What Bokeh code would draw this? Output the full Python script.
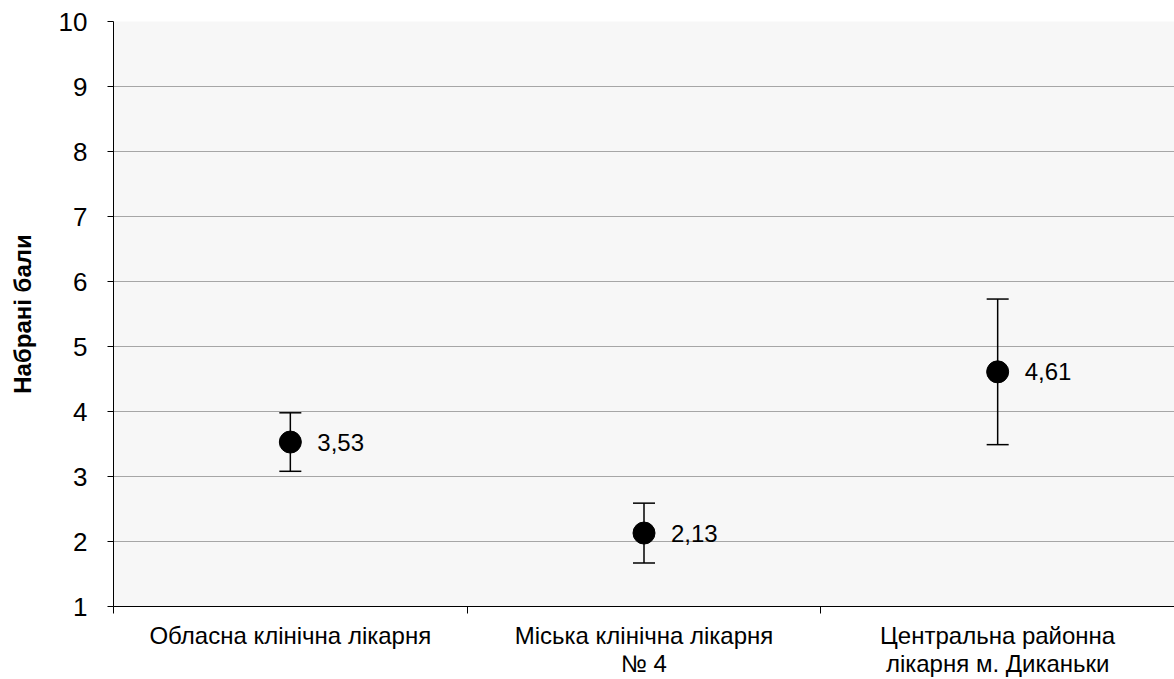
from bokeh.plotting import figure
from bokeh.models import ColumnDataSource, Range1d, FixedTicker, Whisker, TeeHead, LabelSet
from bokeh.core.properties import value
from bokeh.embed import file_html
from bokeh.resources import INLINE

categories = ["Обласна клінічна лікарня", "Міська клінічна лікарня\n№ 4", "Центральна районна\nлікарня м. Диканьки"]
means = [3.53, 2.13, 4.61]
errors = [0.45, 0.46, 1.12]
labels = ["3,53", "2,13", "4,61"]
y_ticks = [1, 2, 3, 4, 5, 6, 7, 8, 9, 10]

xs = [i + 0.5 for i in range(len(categories))]
src = ColumnDataSource(dict(
    x=xs, y=means,
    upper=[m + e for m, e in zip(means, errors)],
    lower=[m - e for m, e in zip(means, errors)],
    lab=labels,
))

p = figure(width=1174, height=679, output_backend="svg", toolbar_location=None,
           x_range=Range1d(0, len(categories)), y_range=Range1d(1, 10),
           min_border_left=113, min_border_right=0, min_border_top=21, min_border_bottom=72)
p.outline_line_color = None
p.background_fill_color = "#f7f7f7"
p.border_fill_color = "white"

font = "Liberation Sans"
# y axis
p.yaxis.ticker = FixedTicker(ticks=y_ticks)
p.yaxis.axis_line_color = "black"
p.yaxis.major_tick_line_color = "black"
p.yaxis.major_tick_out = 6
p.yaxis.major_tick_in = 0
p.yaxis.minor_tick_line_color = None
p.yaxis.major_label_text_font = font
p.yaxis.major_label_text_font_size = "26px"
p.yaxis.major_label_text_color = "black"
p.yaxis.major_label_standoff = 20
p.yaxis.axis_label = "Набрані бали"
p.yaxis.axis_label_text_font = font
p.yaxis.axis_label_text_font_style = "bold"
p.yaxis.axis_label_text_font_size = "24px"
p.yaxis.axis_label_text_color = "black"
p.yaxis.axis_label_standoff = 20

# x axis
p.xaxis.ticker = FixedTicker(ticks=xs, minor_ticks=list(range(len(categories) + 1)))
p.xaxis.major_label_overrides = {x: c for x, c in zip(xs, categories)}
p.xaxis.axis_line_color = "black"
p.xaxis.major_tick_line_color = None
p.xaxis.minor_tick_line_color = "black"
p.xaxis.minor_tick_out = 7
p.xaxis.minor_tick_in = 0
p.xaxis.major_label_text_font = font
p.xaxis.major_label_text_font_size = "24px"
p.xaxis.major_label_text_color = "black"
p.xaxis.major_label_text_line_height = 1.05
p.xaxis.major_label_standoff = 8

p.xgrid.grid_line_color = None
p.ygrid.ticker = FixedTicker(ticks=y_ticks)
p.ygrid.grid_line_color = "#a6a6a6"
p.ygrid.grid_line_width = 1

w = Whisker(source=src, base="x", upper="upper", lower="lower", dimension="height",
            line_color="black", line_width=1.5,
            upper_head=TeeHead(size=22, line_color="black", line_width=1.5),
            lower_head=TeeHead(size=22, line_color="black", line_width=1.5))
p.add_layout(w)

p.scatter("x", "y", source=src, size=22, color="black")

lbl = LabelSet(x="x", y="y", text="lab", source=src, x_offset=27, y_offset=0,
               text_baseline="middle", text_font=value(font), text_font_size="24px",
               text_color="black")
p.add_layout(lbl)

open("out.html", "w").write(file_html(p, INLINE))
